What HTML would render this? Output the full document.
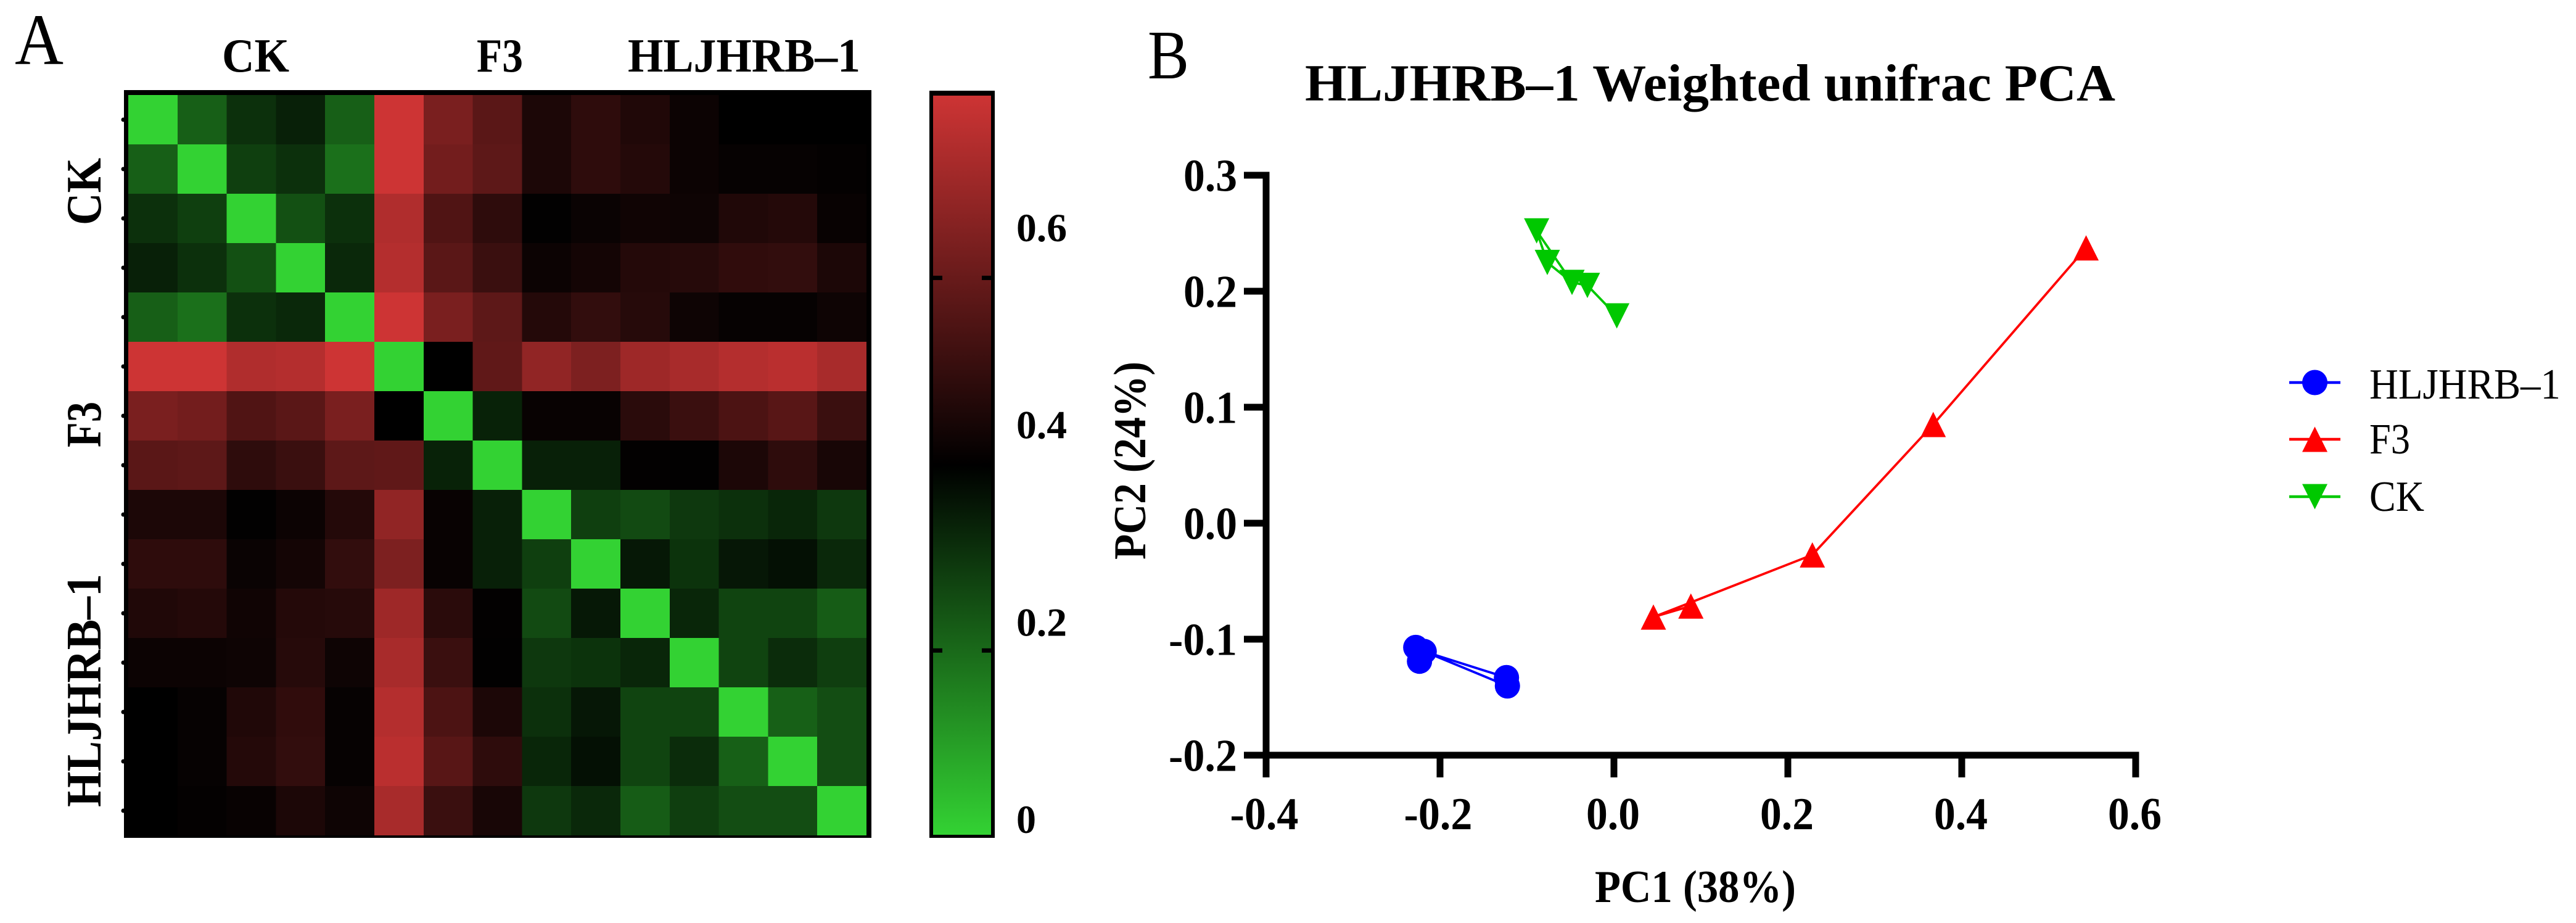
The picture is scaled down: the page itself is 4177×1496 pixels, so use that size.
<!DOCTYPE html>
<html lang="en">
<head>
<meta charset="utf-8">
<title>HLJHRB–1 heatmap and Weighted unifrac PCA</title>
<style>
html,body{margin:0;padding:0;background:#fff;}
svg{display:block;font-family:"Liberation Serif","DejaVu Serif",serif;}
text{fill:#000;}
.b{font-weight:bold;}
</style>
</head>
<body>
<svg id="figure" xmlns="http://www.w3.org/2000/svg" width="4177" height="1496" viewBox="0 0 4177 1496">
  <defs>
    <linearGradient id="cbGrad" x1="0" y1="1" x2="0" y2="0">
      <stop offset="0" stop-color="#33d233"/>
      <stop offset="0.5" stop-color="#000"/>
      <stop offset="1" stop-color="#cd3434"/>
    </linearGradient>
  </defs>
  <rect width="4177" height="1496" fill="#fff"/>

  <text x="24" y="104" font-size="118" textLength="79" lengthAdjust="spacingAndGlyphs">A</text>
  <text x="1861" y="127" font-size="112" textLength="67" lengthAdjust="spacingAndGlyphs">B</text>

  <text class="b" x="360" y="116" font-size="77" textLength="109" lengthAdjust="spacingAndGlyphs">CK</text>
  <text class="b" x="773" y="116" font-size="77" textLength="75" lengthAdjust="spacingAndGlyphs">F3</text>
  <text class="b" x="1018" y="116" font-size="77" textLength="377" lengthAdjust="spacingAndGlyphs">HLJHRB–1</text>

  <text class="b" transform="translate(163 365) rotate(-90)" font-size="80" textLength="109" lengthAdjust="spacingAndGlyphs">CK</text>
  <text class="b" transform="translate(163 725) rotate(-90)" font-size="80" textLength="74" lengthAdjust="spacingAndGlyphs">F3</text>
  <text class="b" transform="translate(163 1308) rotate(-90)" font-size="80" textLength="378" lengthAdjust="spacingAndGlyphs">HLJHRB–1</text>

  <rect x="201" y="146" width="1212" height="1212" fill="#000"/>
  <g id="heatCells" shape-rendering="crispEdges"></g>
  <g id="heatTicks"></g>

  <rect x="1507" y="147" width="106" height="1211" fill="#000"/>
  <rect x="1513" y="155" width="94" height="1198" fill="url(#cbGrad)"/>
  <g id="cbTicks"></g>
  <g id="cbLabels"></g>

  <text class="b" x="2116" y="163" font-size="85" textLength="1314" lengthAdjust="spacingAndGlyphs">HLJHRB–1 Weighted unifrac PCA</text>

  <g id="axes"></g>
  <text class="b" x="2586" y="1462" font-size="74" textLength="326" lengthAdjust="spacingAndGlyphs">PC1 (38%)</text>
  <text class="b" transform="translate(1857 907) rotate(-90)" font-size="74" textLength="321" lengthAdjust="spacingAndGlyphs">PC2 (24%)</text>

  <g id="series"></g>

  <g id="legend">
    <text x="3842" y="646" font-size="70" textLength="310" lengthAdjust="spacingAndGlyphs">HLJHRB–1</text>
    <text x="3842" y="735" font-size="70" textLength="66" lengthAdjust="spacingAndGlyphs">F3</text>
    <text x="3842" y="828" font-size="70" textLength="89" lengthAdjust="spacingAndGlyphs">CK</text>
  </g>
</svg>

<script>
// Heatmap distance values (symmetric), one array per row
const heatRow1  = [0, .2, .281, .309, .2, .73, .582, .525, .415, .447, .422, .386, .365, .365, .365];
const heatRow2  = [.2, 0, .255, .281, .17, .73, .57, .53, .415, .447, .429, .386, .376, .376, .372];
const heatRow3  = [.281, .255, 0, .226, .281, .678, .507, .447, .369, .383, .393, .39, .422, .429, .379];
const heatRow4  = [.309, .281, .226, 0, .295, .685, .525, .468, .386, .401, .429, .433, .45, .454, .415];
const heatRow5  = [.2, .17, .281, .295, 0, .73, .582, .53, .429, .454, .433, .39, .376, .376, .39];
const heatRow6  = [.73, .73, .678, .685, .73, 0, .365, .536, .623, .588, .646, .664, .685, .696, .664];
const heatRow7  = [.582, .57, .507, .525, .582, .365, 0, .306, .379, .379, .44, .468, .5, .522, .468];
const heatRow8  = [.525, .53, .447, .468, .53, .536, .306, 0, .309, .309, .37, .369, .415, .447, .408];
const heatRow9  = [.415, .415, .369, .386, .429, .623, .379, .309, 0, .255, .236, .268, .281, .299, .268];
const heatRow10 = [.447, .447, .383, .401, .454, .588, .379, .309, .255, 0, .323, .276, .325, .337, .295];
const heatRow11 = [.422, .429, .393, .429, .433, .646, .44, .37, .236, .323, 0, .299, .247, .247, .205];
const heatRow12 = [.386, .386, .39, .433, .39, .664, .468, .369, .268, .276, .299, 0, .247, .288, .257];
const heatRow13 = [.365, .376, .422, .45, .376, .685, .5, .415, .281, .325, .247, .247, 0, .198, .231];
const heatRow14 = [.365, .376, .429, .454, .376, .696, .522, .447, .299, .337, .247, .288, .198, 0, .231];
const heatRow15 = [.365, .372, .379, .415, .39, .664, .468, .408, .268, .295, .205, .257, .231, .231, 0];
const heatRows = [heatRow1, heatRow2, heatRow3, heatRow4, heatRow5, heatRow6, heatRow7, heatRow8, heatRow9, heatRow10, heatRow11, heatRow12, heatRow13, heatRow14, heatRow15];

// Colour bar
const colorMax = 0.73;
const colorbarTickValues = [0.182, 0.365, 0.55];
const colorbarLabelValues = [0, 0.2, 0.4, 0.6];
const colorbarLabels = ['0', '0.2', '0.4', '0.6'];

// PCA axes
const xTickValues = [-0.4, -0.2, 0, 0.2, 0.4, 0.6];
const xTickLabels = ['-0.4', '-0.2', '0.0', '0.2', '0.4', '0.6'];
const yTickValues = [-0.2, -0.1, 0, 0.1, 0.2, 0.3];
const yTickLabels = ['-0.2', '-0.1', '0.0', '0.1', '0.2', '0.3'];

// PCA series
const blueName = 'HLJHRB–1';
const bluePC1 = [-0.2279, -0.2182, -0.2236, -0.1236, -0.1225];
const bluePC2 = [-0.1071, -0.1106, -0.119, -0.1331, -0.1403];
const blueOrder = [0, 2, 1, 3, 4, 1];

const redName = 'F3';
const redPC1 = [0.543, 0.3672, 0.2282, 0.0885, 0.0454];
const redPC2 = [0.2374, 0.0851, -0.0273, -0.0714, -0.0809];
const redOrder = [0, 1, 2, 4, 3];

const greenName = 'CK';
const greenPC1 = [-0.0889, -0.0766, -0.0482, -0.0305, 0.0033];
const greenPC2 = [0.252, 0.2248, 0.2076, 0.205, 0.1787];
const greenOrder = [4, 3, 2, 0, 1, 2];

const NS = 'http://www.w3.org/2000/svg';
function make(tag, parent, attrs) {
  const el = document.createElementNS(NS, tag);
  for (const k in attrs) el.setAttribute(k, attrs[k]);
  parent.appendChild(el);
  return el;
}
const byId = id => document.getElementById(id);

// ---- scales ----
const cellX = j => 208 + j * (1197 / 15);
const cellY = i => 154 + i * 80;
const barY = v => 1353 - (v / colorMax) * 1198;
const barLabelY = v => 1350 - (v / 0.2) * 319.7;
const xScale = v => 2053 + (v + 0.4) * 1410;
const yScale = v => 1224 - (v + 0.2) * 1880;

function lerp(a, b, t) { return Math.round(a + (b - a) * t); }
function heatColor(v) {
  const t = Math.max(0, Math.min(1, v / colorMax));
  if (t < 0.5) {
    const u = t * 2;
    return 'rgb(' + lerp(51, 0, u) + ',' + lerp(210, 0, u) + ',' + lerp(51, 0, u) + ')';
  }
  const u = (t - 0.5) * 2;
  return 'rgb(' + lerp(0, 205, u) + ',' + lerp(0, 52, u) + ',' + lerp(0, 52, u) + ')';
}

// ---- heatmap ----
heatRows.forEach((row, i) => {
  row.forEach((v, j) => {
    const c = make('rect', byId('heatCells'), {
      x: cellX(j), y: cellY(i), width: cellX(j + 1) - cellX(j), height: 80, fill: heatColor(v)
    });
    
    
  });
  const t = make('circle', byId('heatTicks'), { cx: 200, cy: cellY(i) + 40, r: 3.5, fill: '#000' });
  
  
});

// ---- colour bar ----
colorbarTickValues.forEach(v => {
  const left = make('rect', byId('cbTicks'), { x: 1513, y: barY(v) - 3.5, width: 15, height: 7, fill: '#000' });
  
  
  const right = make('rect', byId('cbTicks'), { x: 1592, y: barY(v) - 3.5, width: 15, height: 7, fill: '#000' });
  
  
});
colorbarLabelValues.forEach((v, i) => {
  const s = colorbarLabels[i];
  const t = make('text', byId('cbLabels'), {
    x: 1648, y: barLabelY(v), 'font-size': 65, 'font-weight': 'bold',
    textLength: s.length > 1 ? 82 : 32, lengthAdjust: 'spacingAndGlyphs'
  });
  
  
  t.textContent = s;
});

// ---- axes ----
const axes = byId('axes');
const yAxisLine = make('line', axes, {
  x1: xScale(-0.4), x2: xScale(-0.4), y1: yScale(0.3) - 5.5, y2: yScale(-0.2) + 36, stroke: '#000', 'stroke-width': 11
});


const xAxisLine = make('line', axes, {
  x1: xScale(-0.4) - 36, x2: xScale(0.6) + 5.5, y1: yScale(-0.2), y2: yScale(-0.2), stroke: '#000', 'stroke-width': 11
});



function textLen(s) { return s.length > 3 ? 111 : 87; }

xTickValues.forEach((v, i) => {
  const tick = make('line', axes, {
    x1: xScale(v), x2: xScale(v), y1: yScale(-0.2), y2: yScale(-0.2) + 36, stroke: '#000', 'stroke-width': 11
  });
  
  
  const s = xTickLabels[i];
  const label = make('text', axes, {
    x: xScale(v) - (s.length > 3 ? 3 : 1.5), y: 1344, 'font-size': 74, 'font-weight': 'bold',
    'text-anchor': 'middle', textLength: textLen(s), lengthAdjust: 'spacingAndGlyphs'
  });
  
  
  label.textContent = s;
});
yTickValues.forEach((v, i) => {
  const tick = make('line', axes, {
    x1: xScale(-0.4) - 36, x2: xScale(-0.4), y1: yScale(v), y2: yScale(v), stroke: '#000', 'stroke-width': 11
  });
  
  
  const s = yTickLabels[i];
  const label = make('text', axes, {
    x: 2006, y: yScale(v) + 25.5, 'font-size': 74, 'font-weight': 'bold',
    'text-anchor': 'end', textLength: textLen(s), lengthAdjust: 'spacingAndGlyphs'
  });
  
  
  label.textContent = s;
});

// ---- markers ----
function marker(parent, kind, cx, cy, color) {
  let m;
  if (kind === 'circle') {
    m = make('circle', parent, { cx: cx, cy: cy, r: 20.5, fill: color });
  } else if (kind === 'up') {
    m = make('polygon', parent, {
      points: (cx) + ',' + (cy - 20.5) + ' ' + (cx - 20.5) + ',' + (cy + 20.5) + ' ' + (cx + 20.5) + ',' + (cy + 20.5), fill: color
    });
  } else {
    m = make('polygon', parent, {
      points: (cx) + ',' + (cy + 20.5) + ' ' + (cx - 20.5) + ',' + (cy - 20.5) + ' ' + (cx + 20.5) + ',' + (cy - 20.5), fill: color
    });
  }
  return m;
}

function drawSeries(slug, xs, ys, order, kind, color) {
  const g = make('g', byId('series'), {});
  
  
  const pts = order.map(k => xScale(xs[k]) + ',' + yScale(ys[k])).join(' ');
  const line = make('polyline', g, {
    points: pts, fill: 'none', stroke: color, 'stroke-width': 3.8, 'stroke-linejoin': 'round'
  });
  
  
  xs.forEach((x, k) => {
    const m = marker(g, kind, xScale(x), yScale(ys[k]), color);
    
    
  });
}
drawSeries('hljhrb', bluePC1, bluePC2, blueOrder, 'circle', '#0000ff');
drawSeries('f3', redPC1, redPC2, redOrder, 'up', '#ff0000');
drawSeries('ck', greenPC1, greenPC2, greenOrder, 'down', '#00c800');

// ---- legend ----
function legendSwatch(slug, rowY, kind, color) {
  const sw = make('line', byId('legend'), { x1: 3712, x2: 3795, y1: rowY, y2: rowY, stroke: color, 'stroke-width': 4.5 });
  
  
  const m = marker(byId('legend'), kind, 3753.5, rowY, color);
  
  
}
legendSwatch('hljhrb', 620, 'circle', '#0000ff');
legendSwatch('f3', 712, 'up', '#ff0000');
legendSwatch('ck', 805, 'down', '#00c800');
</script>
</body>
</html>
